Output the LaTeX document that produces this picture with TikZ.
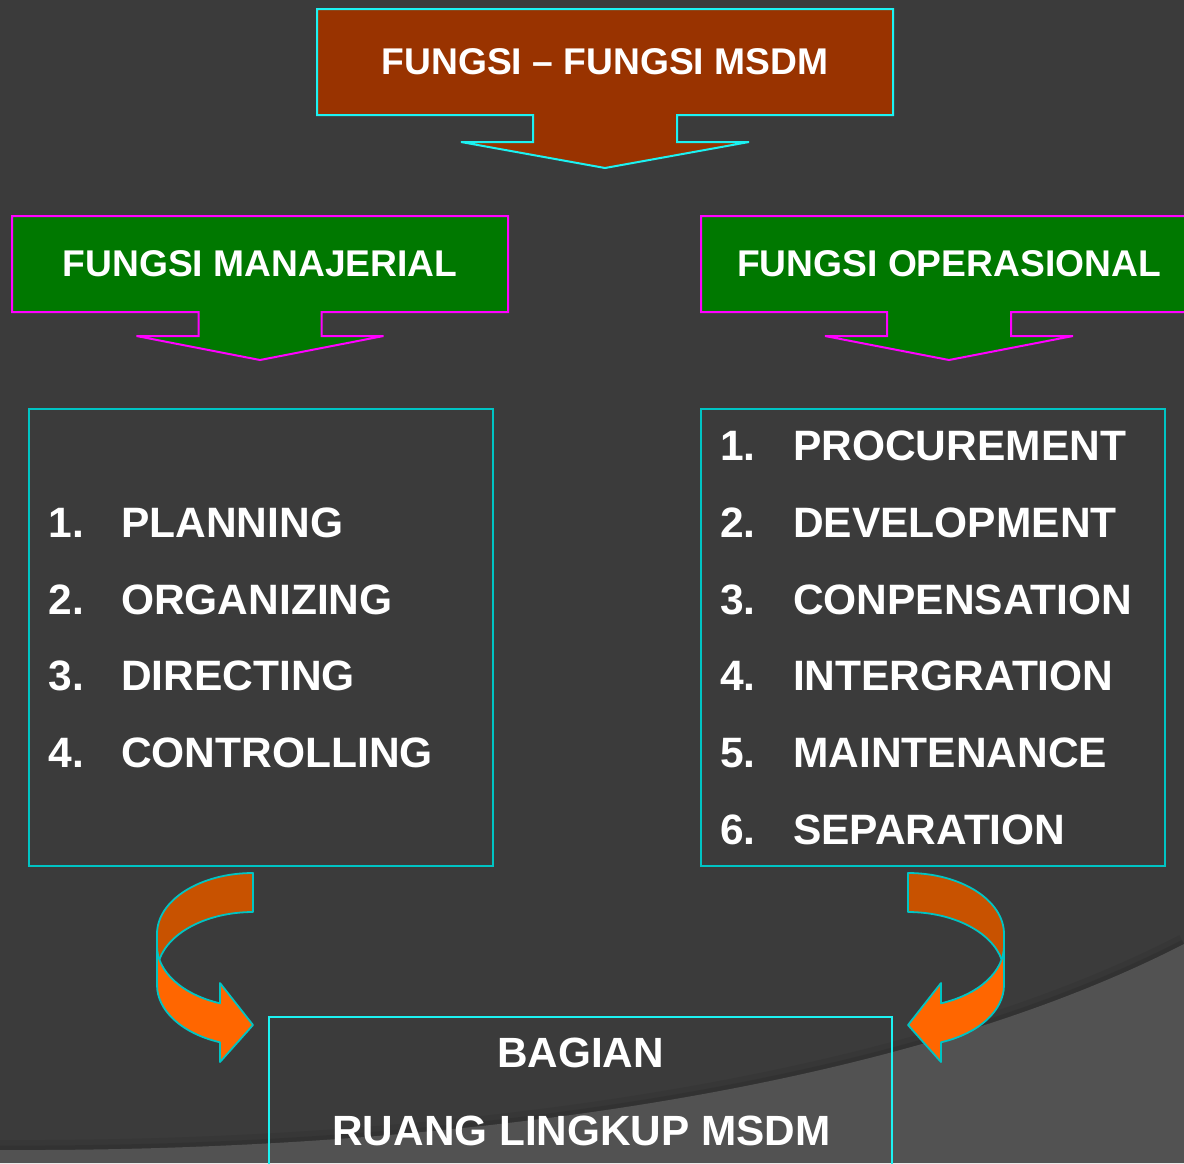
\documentclass[tikz,border=0pt]{standalone}
\usepackage{fontspec}
\setmainfont{Liberation Sans}
\usepackage{xcolor}
\usetikzlibrary{positioning,calc,backgrounds}

\definecolor{slidegray}{HTML}{3B3B3B}
\definecolor{slidelight}{HTML}{525252}
\definecolor{msdmbrown}{HTML}{993300}
\definecolor{fungsigreen}{HTML}{007800}
\definecolor{edgecyan}{HTML}{1CF2F2}
\definecolor{edgeteal}{HTML}{00C4C4}
\definecolor{edgepink}{HTML}{FF00FF}
\definecolor{swooshback}{HTML}{C85200}
\definecolor{swooshfront}{HTML}{FF6600}

\tikzset{
  callout/.style={inner sep=0pt, outer sep=0pt, text=white,
    font=\fontsize{37.2}{44}\selectfont\bfseries},
  listbox/.style={draw=edgeteal, line width=2pt, minimum width=464pt,
    minimum height=457pt, inner sep=0pt, outer sep=0pt},
  listitem/.style={anchor=base west, inner sep=0pt, text=white,
    font=\fontsize{42.5}{50}\selectfont\bfseries},
  bottomtext/.style={inner sep=0pt, text=white,
    font=\fontsize{42.3}{50}\selectfont\bfseries},
  swooshline/.style={draw=edgeteal, line width=1.8pt, line join=round},
}

% box with a block arrow under it: node, shaft half, head half, shaft length, head length, style
\newcommand{\dropoutline}[6]{%
  \filldraw[#6] ($(#1.south)+(#2,0)$) -- ($(#1.south)+(#2,#4)$) -- ($(#1.south)+(#3,#4)$)
    -- ($(#1.south)+(0,#4+#5)$) -- ($(#1.south)+(-#3,#4)$) -- ($(#1.south)+(-#2,#4)$)
    -- ($(#1.south)+(-#2,0)$) -- (#1.south west) -- (#1.north west) -- (#1.north east)
    -- (#1.south east) -- cycle;}

% curved arrow, its flat end at the origin
\newcommand{\swoosh}{%
  \filldraw[swooshline, fill=swooshback] (0,0)
    arc[start angle=270, end angle=180, x radius=96, y radius=61]
    -- (-96,86.5) -- (-93.6,86.5)
    arc[start angle=192.8, end angle=270, x radius=96, y radius=61] -- cycle;
  \filldraw[swooshline, fill=swooshfront] (-96,73) -- (-96,112)
    arc[start angle=180, end angle=110.1, x radius=96, y radius=61]
    -- (-33,189) -- (0,152) -- (-33,110) -- (-33,130.3)
    arc[start angle=110.1, end angle=180, x radius=96, y radius=61] -- cycle;}

\begin{document}
\begin{tikzpicture}[x=1pt,y=-1pt]
\useasboundingbox (0,0) rectangle (1184,1163);
\begin{scope}[on background layer]
  \fill[slidegray] (0,0) rectangle (1184,1163);
  \draw[black,opacity=0.06,line width=20pt] (0,1150) .. controls (450,1152) and (900,1090) .. (1184,944);
  \draw[black,opacity=0.08,line width=9pt] (0,1150) .. controls (450,1152) and (900,1090) .. (1184,944);
  \fill[slidelight] (0,1150) .. controls (450,1152) and (900,1090) .. (1184,944)
    -- (1184,1163) -- (0,1163) -- cycle;
\end{scope}

% head boxes
\node[callout, minimum width=576pt, minimum height=106pt] (msdm) at (605,62) {FUNGSI \textendash{} FUNGSI MSDM};
\node[callout, minimum width=496pt, minimum height=96pt] (manajerial) at (260,264) {FUNGSI MANAJERIAL};
\node[callout, minimum width=496pt, minimum height=96pt] (operasional) at (949,264) {FUNGSI OPERASIONAL};
\begin{scope}[on background layer]
  \dropoutline{msdm}{72}{144}{27}{26}{fill=msdmbrown, draw=edgecyan, line width=2pt}
  \dropoutline{manajerial}{61.5}{123.5}{24}{24}{fill=fungsigreen, draw=edgepink, line width=2pt}
  \dropoutline{operasional}{62}{124}{24}{24}{fill=fungsigreen, draw=edgepink, line width=2pt}
\end{scope}

% lists
\node[listbox] (mlist) at (261,637.5) {};
\node[listbox] (olist) at (933,637.5) {};

\node[listitem] (m1) at (48.5,537.3) {\makebox[72.5pt][l]{1.}PLANNING};
\node[listitem] (m2) at (48.5,614) {\makebox[72.5pt][l]{2.}ORGANIZING};
\node[listitem] (m3) at (48.5,690.7) {\makebox[72.5pt][l]{3.}DIRECTING};
\node[listitem] (m4) at (48.5,767.4) {\makebox[72.5pt][l]{4.}CONTROLLING};

\node[listitem] (o1) at (720,460.7) {\makebox[73pt][l]{1.}PROCUREMENT};
\node[listitem] (o2) at (720,537.4) {\makebox[73pt][l]{2.}DEVELOPMENT};
\node[listitem] (o3) at (720,614.1) {\makebox[73pt][l]{3.}CONPENSATION};
\node[listitem] (o4) at (720,690.8) {\makebox[73pt][l]{4.}INTERGRATION};
\node[listitem] (o5) at (720,767.5) {\makebox[73pt][l]{5.}MAINTENANCE};
\node[listitem] (o6) at (720,844.2) {\makebox[73pt][l]{6.}SEPARATION};

% curved arrows
\begin{scope}[shift={(253,873)}]
  \swoosh
\end{scope}
\begin{scope}[shift={(908,873)}, xscale=-1]
  \swoosh
\end{scope}

% bottom box
\node[draw=edgecyan, line width=2pt, minimum width=623pt, minimum height=180pt,
  inner sep=0pt, outer sep=0pt] (ruang) at (580.5,1107) {};
\node[bottomtext] (bagian) at (580.5,1052.5) {BAGIAN};
\node[bottomtext] (lingkup) at (581.5,1130.5) {RUANG LINGKUP MSDM};
\end{tikzpicture}
\end{document}
